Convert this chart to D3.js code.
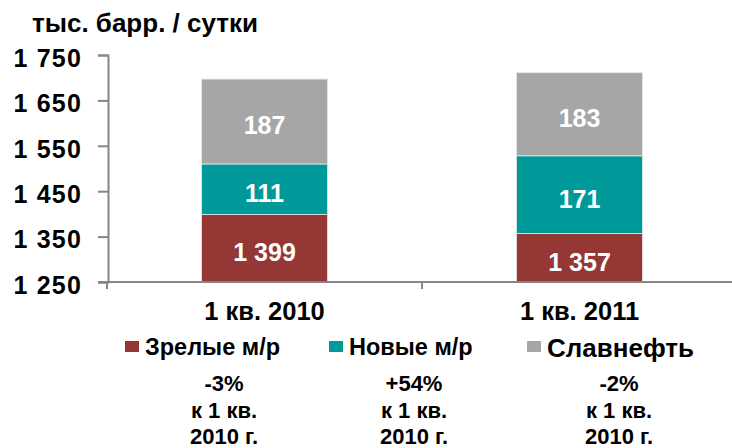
<!DOCTYPE html>
<html lang="ru">
<head>
<meta charset="UTF-8">
<script src="https://cdn.jsdelivr.net/npm/d3@7"></script>
<style>
  body { margin: 0; background: #fff; }
  svg { display: block; font-family: Arial, 'Liberation Sans', sans-serif; font-weight: bold; }
</style>
</head>
<body>
<svg width="732" height="448"></svg>
<script>
// Data
const categories = ['1 кв. 2010', '1 кв. 2011'];
const seriesNames = ['Зрелые м/р', 'Новые м/р', 'Славнефть'];
const mature = [1399, 1357];
const newFields = [111, 171];
const slavneft = [187, 183];
const yTicks = [1250, 1350, 1450, 1550, 1650, 1750];
const changes = ['-3%', '+54%', '-2%'];
const changeNote = ['к 1 кв.', '2010 г.'];
const unitLabel = 'тыс. барр. / сутки';

const colors = ['#953735', '#009999', '#a6a6a6'];
const axisColor = '#868686';

const fmt = d3.formatLocale({ decimal: ',', thousands: '\u00a0', grouping: [3], currency: ['', ''] }).format(',');

const svg = d3.select('svg');

const x = d3.scaleBand().domain(categories).range([107, 737]);
const y = d3.scaleLinear().domain([1250, 1750]).range([282, 55]).clamp(true);
const barW = x.bandwidth() * 0.4;

const rows = categories.map((c, i) => ({ cat: c, s0: mature[i], s1: newFields[i], s2: slavneft[i] }));
const stacked = d3.stack().keys(['s0', 's1', 's2'])(rows);

// unit label
svg.append('text')
  .attr('x', 32).attr('y', 32)
  .attr('font-size', 26)
  .text(unitLabel);

// bars
const layer = svg.append('g').selectAll('g')
  .data(stacked).join('g')
  .attr('fill', (d, i) => colors[i]);

layer.selectAll('rect')
  .data(d => d).join('rect')
  .attr('x', d => x(d.data.cat) + (x.bandwidth() - barW) / 2)
  .attr('y', d => y(d[1]))
  .attr('width', barW)
  .attr('height', d => y(d[0]) - y(d[1]))
  .attr('stroke', '#e6e6e6')
  .attr('stroke-width', 0.8);

// value labels
const labelSize = 25;
layer.selectAll('text')
  .data(d => d).join('text')
  .attr('x', d => x(d.data.cat) + x.bandwidth() / 2)
  .attr('y', d => (y(d[0]) + y(d[1])) / 2 + 4 + labelSize * 0.358)
  .attr('text-anchor', 'middle')
  .attr('fill', '#fff')
  .attr('font-size', labelSize)
  .text(d => fmt(d[1] - d[0]));

// y axis
const yAxis = svg.append('g')
  .attr('transform', 'translate(108,0)')
  .call(d3.axisLeft(y).tickValues(yTicks).tickFormat(fmt).tickSize(10).tickPadding(16));
yAxis.select('.domain').attr('stroke', axisColor).attr('stroke-width', 2);
yAxis.selectAll('.tick line').attr('stroke', axisColor).attr('stroke-width', 2);
yAxis.selectAll('.tick text')
  .attr('fill', '#000')
  .attr('font-size', 25)
  .attr('letter-spacing', 1.2)
  .attr('font-family', "Arial, 'Liberation Sans', sans-serif")
  .attr('font-weight', 'bold')
  .attr('dy', '0.45em');

// x axis
svg.append('line')
  .attr('x1', 98).attr('x2', 732)
  .attr('y1', y(1250)).attr('y2', y(1250))
  .attr('stroke', axisColor).attr('stroke-width', 2);
svg.append('g').selectAll('line')
  .data(categories).join('line')
  .attr('x1', d => x(d)).attr('x2', d => x(d))
  .attr('y1', y(1250)).attr('y2', y(1250) + 7)
  .attr('stroke', axisColor).attr('stroke-width', 2);

svg.append('g').selectAll('text')
  .data(categories).join('text')
  .attr('x', d => x(d) + x.bandwidth() / 2)
  .attr('y', 320)
  .attr('text-anchor', 'middle')
  .attr('font-size', 25.5)
  .text(d => d);

// legend
const legendX = [125, 329, 527];
const legendSize = [23.5, 23.5, 26];
const legend = svg.append('g').selectAll('g')
  .data(seriesNames).join('g')
  .attr('transform', (d, i) => `translate(${legendX[i]},341)`);
legend.append('rect')
  .attr('width', 14).attr('height', 11)
  .attr('fill', (d, i) => colors[i]);
legend.append('text')
  .attr('x', 20)
  .attr('y', (d, i) => (i === 2 ? 16 : 14))
  .attr('font-size', (d, i) => legendSize[i])
  .text(d => d);

// change notes
const noteX = [224, 414, 619];
const notes = svg.append('g').selectAll('text')
  .data(changes).join('text')
  .attr('text-anchor', 'middle')
  .attr('font-size', 22);
notes.append('tspan')
  .attr('x', (d, i) => noteX[i]).attr('y', 391)
  .text(d => d);
changeNote.forEach((line, k) => {
  notes.append('tspan')
    .attr('x', (d, i) => noteX[i]).attr('y', 418 + k * 26)
    .text(line);
});
</script>
</body>
</html>
